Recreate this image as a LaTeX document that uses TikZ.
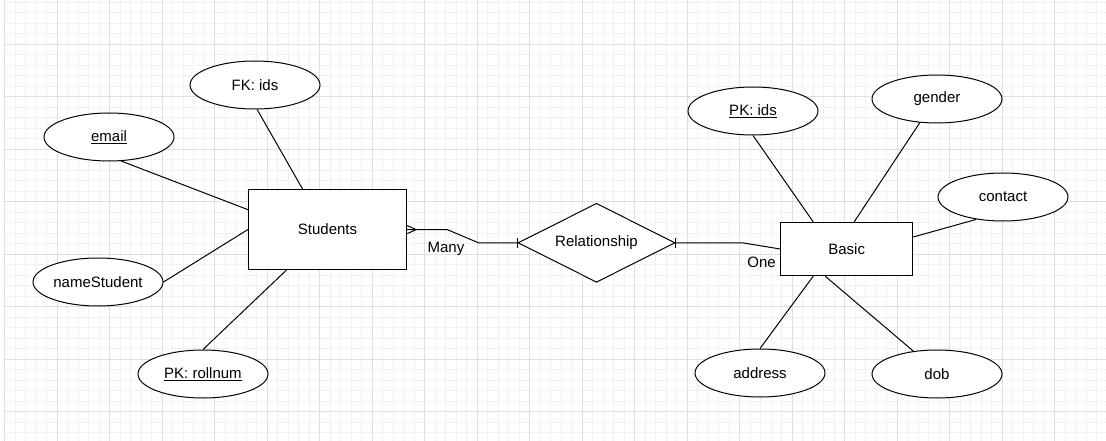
\documentclass[tikz,border=0pt]{standalone}
\usepackage{fontspec}
\setmainfont{Liberation Sans}
\usetikzlibrary{shapes.geometric,calc}
\definecolor{minorgrid}{RGB}{241,241,241}
\definecolor{majorgrid}{RGB}{222,222,222}
\begin{document}
\begin{tikzpicture}[x=1pt,y=-1pt,
  txt/.style={font=\fontsize{15}{18}\selectfont},
  attr/.style={ellipse,draw,fill=white,line width=1pt,minimum width=130pt,minimum height=48pt,inner sep=0pt,txt},
  ent/.style={rectangle,draw,fill=white,line width=1pt,inner sep=0pt,txt},
  relbox/.style={diamond,aspect=2,draw,fill=white,line width=1pt,inner sep=0pt,minimum width=157pt,minimum height=79pt,txt},
  conn/.style={line width=1pt},
  lbl/.style={inner sep=0pt,txt}]
\fill[white] (0,0) rectangle (1106,441);
\useasboundingbox (0,0) rectangle (1106,441);
% grid
\foreach \i in {0,...,104} {\draw[minorgrid,line width=0.8pt] ({4.5+10.5*\i},0) -- ({4.5+10.5*\i},441);}
\foreach \j in {0,...,41} {\draw[minorgrid,line width=0.8pt] (4.5,{2+10.5*\j}) -- (1106,{2+10.5*\j});}
\foreach \i in {0,...,20} {\draw[majorgrid,line width=0.8pt] ({4.5+52.5*\i},0) -- ({4.5+52.5*\i},441);}
\foreach \j in {0,...,7} {\draw[majorgrid,line width=0.8pt] (4.5,{44+52.5*\j}) -- (1106,{44+52.5*\j});}

\coordinate (stuC) at (327.5,229.6);
\coordinate (basC) at (846.7,249);

% nodes
\node[ent,minimum width=158.4pt,minimum height=79.3pt] (stu) at (stuC) {Students};
\node[ent,minimum width=132pt,minimum height=53.4pt] (basic) at (basC) {Basic};
\node[relbox] (rel) at (596.5,242.8) {Relationship};

\node[attr] (fk) at (255,85) {FK: ids};
\node[attr] (email) at (109,137) {\underline{email}};
\node[attr] (name) at (98,282) {nameStudent};
\node[attr] (roll) at (203,374) {\underline{PK: rollnum}};
\node[attr] (pkids) at (753,111) {\underline{PK: ids}};
\node[attr] (gender) at (937,99) {gender};
\node[attr] (contact) at (1003,197) {contact};
\node[attr] (address) at (760,373) {address};
\node[attr] (dob) at (937,374) {dob};

% attribute lines
\draw[conn] (fk.-85) -- ($(stu.north west)+(55,0)$);
\draw[conn] (email.-63) -- ($(stu.west)+(0,-20)$);
\draw[conn] (name.east) -- (stu.west);
\draw[conn] (roll.north) -- ($(stu.south west)+(39,0)$);
\draw[conn] (pkids.south) -- ($(basic.north west)+(33,0)$);
\draw[conn] (gender.-126) -- ($(basic.north west)+(74,0)$);
\draw[conn] (contact.-140) -- ($(basic.east)+(0,-12)$);
\draw[conn] (address.north) -- ($(basic.south west)+(33,0)$);
\draw[conn] (dob.136) -- ($(basic.south west)+(45,0)$);

% relationship connectors
\draw[conn] (stu.east) -- ++(40,0) -- ($(rel.west)+(-39,0)$) -- (rel.west);
\draw[conn] ($(stu.east)+(0,-4)$) -- ($(stu.east)+(9,0)$) -- ($(stu.east)+(0,4)$);
\draw[conn] ($(rel.west)+(0,-4.7)$) -- ($(rel.west)+(0,4.7)$);
\draw[conn] (rel.east) -- ++(67,0) -- (basic.west);
\draw[conn] ($(rel.east)+(0,-4.7)$) -- ($(rel.east)+(0,4.7)$);

\node[lbl] (many) at (446,249) {Many};
\node[lbl] (one) at (761.5,262.5) {One};
\end{tikzpicture}
\end{document}
